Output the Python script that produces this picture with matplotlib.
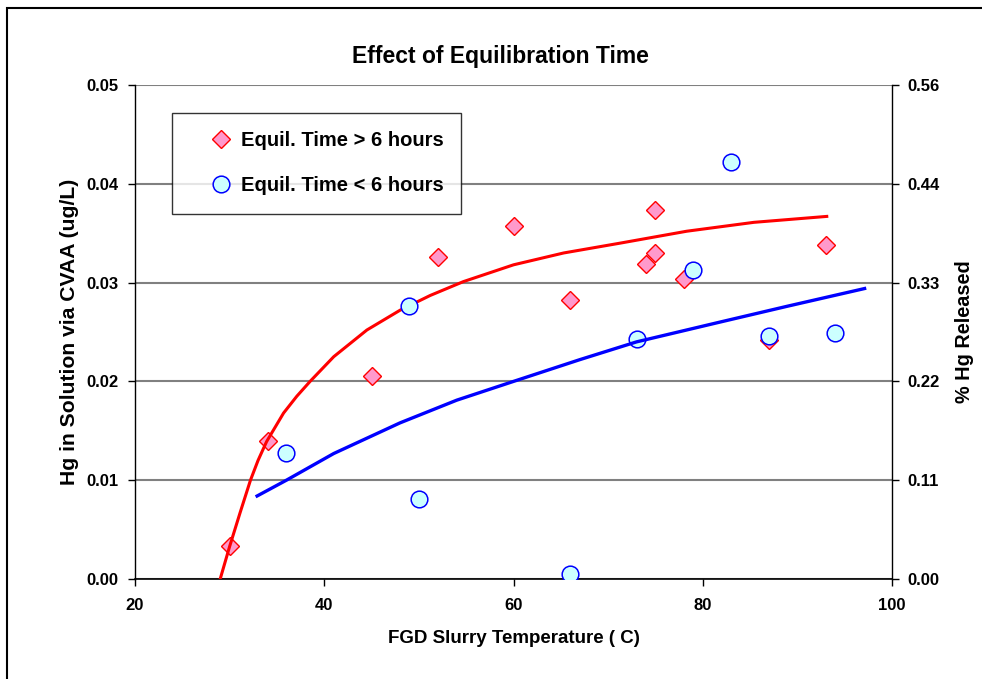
import matplotlib
matplotlib.use('Agg')
import matplotlib.pyplot as plt
from matplotlib.patches import Rectangle

plt.rcParams['font.family'] = ['Liberation Sans', 'DejaVu Sans']
plt.rcParams['font.weight'] = 'bold'

# equilibration time > 6 hours
long_temp = [30, 34, 45, 52, 60, 66, 74, 75, 75, 78, 87, 93]
long_hg = [0.0033, 0.0140, 0.0205, 0.0326, 0.0357, 0.0282, 0.0319, 0.0373, 0.0330, 0.0304, 0.0242, 0.0338]

# equilibration time < 6 hours
short_temp = [36, 49, 50, 66, 73, 79, 83, 87, 94]
short_hg = [0.0128, 0.0276, 0.0081, 0.0005, 0.0243, 0.0313, 0.0422, 0.0246, 0.0249]

# trendlines
long_trend_x = [29.0, 30.0, 31.1, 32.2, 33.0, 33.9, 35.7, 37.1, 38.5, 41.0, 44.5, 48.0, 51.2, 54.7,
                60.0, 65.3, 71.3, 78.3, 85.4, 93.1]
long_trend_y = [0.0, 0.0033, 0.0067, 0.0100, 0.0120, 0.0139, 0.0168, 0.0185, 0.0200, 0.0225, 0.0252,
                0.0272, 0.0287, 0.0301, 0.0318, 0.0330, 0.0340, 0.0352, 0.0361, 0.0367]
short_trend_x = [32.9, 36.0, 41.0, 48.0, 54.0, 60.0, 67.0, 73.0, 81.8, 88.9, 97.1]
short_trend_y = [0.0084, 0.0100, 0.0127, 0.0158, 0.0181, 0.0200, 0.0222, 0.0240, 0.0260, 0.0276, 0.0294]

left_ticks = [0.00, 0.01, 0.02, 0.03, 0.04, 0.05]
right_labels = ['0.00', '0.11', '0.22', '0.33', '0.44', '0.56']

fig = plt.figure(figsize=(9.82, 6.79), dpi=100)
ax = fig.add_axes([0.1375, 0.1473, 0.7709, 0.7275])

for t in left_ticks:
    ax.axhline(t, color='#808080', lw=1.5, zorder=0)

ax.plot(long_temp, long_hg, linestyle='none', marker='D', ms=9, mfc='#FF99CC', mec='#FF0000',
        mew=1.0, label='Equil. Time > 6 hours', zorder=3)
ax.plot(long_trend_x, long_trend_y, color='#FF0000', lw=2.2, zorder=4)
ax.plot(short_temp, short_hg, linestyle='none', marker='o', ms=12, mfc='#CCFFFF', mec='#0000FF',
        mew=1.1, label='Equil. Time < 6 hours', zorder=5)
ax.plot(short_trend_x, short_trend_y, color='#0000FF', lw=2.4, zorder=6)

ax.set_xlim(20, 100)
ax.set_ylim(0, 0.05)
ax.set_xticks([20, 40, 60, 80, 100])
ax.set_yticks(left_ticks)
ax.set_yticklabels(['%.2f' % t for t in left_ticks])
ax.tick_params(labelsize=12, direction='out', length=5, width=1, pad=7)
ax.tick_params(axis='x', pad=9)
ax.spines['top'].set_visible(False)
ax.spines['right'].set_visible(False)
ax.spines['left'].set_linewidth(1)
ax.spines['bottom'].set_linewidth(1.2)

ax.set_xlabel('FGD Slurry Temperature ( C)', fontsize=13.5, fontweight='bold', labelpad=12)
ax.set_ylabel('Hg in Solution via CVAA (ug/L)', fontsize=15.2, fontweight='bold', labelpad=5)
fig.text(500 / 982, 1 - 57 / 679, 'Effect of Equilibration Time', fontsize=16.5, fontweight='bold',
         ha='center', va='center')

ax2 = ax.twinx()
ax2.set_ylim(0, 0.56)
ax2.set_yticks([0.112 * i for i in range(6)])
ax2.set_yticklabels(right_labels)
ax2.tick_params(labelsize=12, direction='out', length=5, width=1, pad=6)
ax2.spines['top'].set_visible(False)
ax2.spines['left'].set_visible(False)
ax2.spines['bottom'].set_visible(False)
ax2.spines['right'].set_linewidth(1)
ax2.set_ylabel('% Hg Released', fontsize=14.3, fontweight='bold', labelpad=11)

leg = ax.legend(loc='upper left', bbox_to_anchor=(0.049, 0.943), fontsize=14.5, frameon=True,
                fancybox=False, edgecolor='black', borderpad=0.9, labelspacing=1.3,
                handletextpad=-0.6, borderaxespad=0, handlelength=3.1)
leg.get_frame().set_linewidth(1)
for txt in leg.get_texts():
    txt.set_fontweight('bold')

fig.patches.append(Rectangle((7 / 982, -0.1), 1.2, 1.1 - 8 / 679, transform=fig.transFigure,
                             fill=False, edgecolor='black', lw=1.5))

fig.savefig('out.png', dpi=100)
